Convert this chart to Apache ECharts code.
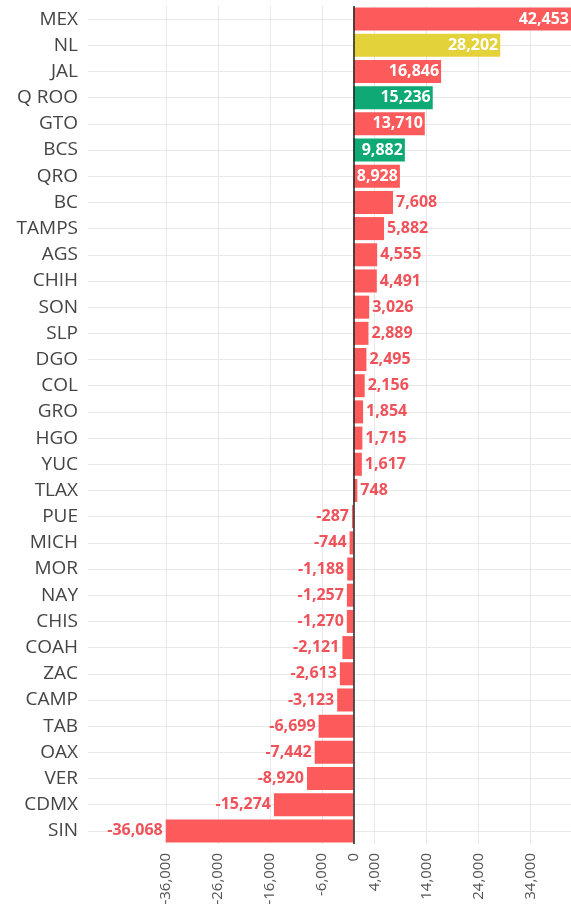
<!DOCTYPE html>
<html>
<head>
<meta charset="utf-8">
<script src="https://cdn.jsdelivr.net/npm/echarts@6/dist/echarts.min.js"></script>
<style>
  html, body { margin: 0; padding: 0; background: #fff; }
  #chart { width: 571px; height: 909px; }
</style>
</head>
<body>
<div id="chart"></div>
<script>
var states = ['MEX', 'NL', 'JAL', 'Q ROO', 'GTO', 'BCS', 'QRO', 'BC', 'TAMPS', 'AGS', 'CHIH', 'SON', 'SLP', 'DGO', 'COL', 'GRO',
  'HGO', 'YUC', 'TLAX', 'PUE', 'MICH', 'MOR', 'NAY', 'CHIS', 'COAH', 'ZAC', 'CAMP', 'TAB', 'OAX', 'VER', 'CDMX', 'SIN']
var values = [42453, 28202, 16846, 15236, 13710, 9882, 8928, 7608, 5882, 4555, 4491, 3026, 2889, 2495, 2156, 1854,
  1715, 1617, 748, -287, -744, -1188, -1257, -1270, -2121, -2613, -3123, -6699, -7442, -8920, -15274, -36068]
var xTicks = [-36000, -26000, -16000, -6000, 0, 4000, 14000, 24000, 34000]

// colouring
var RED = '#fd5b5b'
var YELLOW = '#e3d23a'
var GREEN = '#0fa976'
var yellowStates = ['NL']
var greenStates = ['Q ROO', 'BCS']
var insideMin = 8000

function fmt(v) {
  return v.toLocaleString('en-US')
}

var chart = echarts.init(document.getElementById('chart'))

var barData = values.map(function (v, i) {
  var s = states[i]
  var c = yellowStates.indexOf(s) >= 0 ? YELLOW : greenStates.indexOf(s) >= 0 ? GREEN : RED
  var inside = v >= insideMin
  return {
    value: v,
    itemStyle: { color: c },
    label: {
      position: inside ? 'insideRight' : v >= 0 ? 'right' : 'left',
      distance: inside ? 2 : 3,
      color: inside ? '#fff' : '#f0525a'
    }
  }
})

var option = {
  animation: false,
  backgroundColor: '#fff',
  grid: { left: 88, right: 0, top: 6, bottom: 65, containLabel: false },
  xAxis: {
    type: 'value',
    min: -51000,
    max: 41800,
    axisLine: { show: false },
    axisTick: { show: false, customValues: xTicks },
    axisLabel: {
      customValues: xTicks,
      rotate: 90,
      margin: 9,
      color: '#555',
      fontSize: 15,
      fontFamily: 'Open Sans',
      formatter: function (v) { return fmt(v) }
    },
    splitLine: { show: true, lineStyle: { color: '#e8e8e8', width: 1 } }
  },
  yAxis: {
    type: 'category',
    data: states,
    inverse: true,
    axisLine: { show: false },
    axisTick: { show: false, alignWithLabel: true },
    axisLabel: { color: '#444', fontSize: 19, fontFamily: 'Open Sans', margin: 10 },
    splitLine: { show: true, alignWithLabel: true, lineStyle: { color: '#e8e8e8', width: 1 } }
  },
  series: [
    {
      type: 'bar',
      data: barData,
      barCategoryGap: '12%',
      label: {
        show: true,
        fontSize: 16,
        fontWeight: 'bold',
        fontFamily: 'Open Sans',
        formatter: function (p) { return fmt(p.value) }
      },
      markLine: {
        silent: true,
        symbol: 'none',
        label: { show: false },
        lineStyle: { color: '#222', width: 1.5, type: 'solid' },
        data: [{ xAxis: 0 }]
      }
    }
  ]
}

chart.setOption(option)
window.addEventListener('resize', function () {
  chart.resize()
})
</script>
</body>
</html>
